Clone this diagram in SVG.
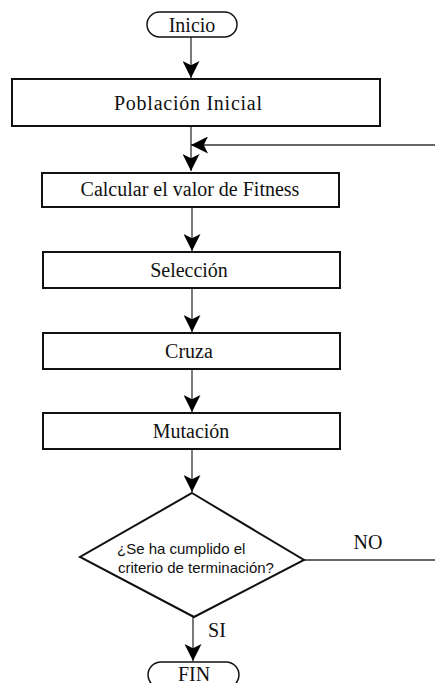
<svg xmlns="http://www.w3.org/2000/svg" width="435" height="683" viewBox="0 0 435 683">
<defs>
<marker id="ah" viewBox="0 0 16 16" refX="16" refY="8" markerWidth="17" markerHeight="17" markerUnits="userSpaceOnUse" orient="auto">
<path d="M0,0 L16,8 L0,16 L4,8 Z" fill="#000"/>
</marker>
</defs>
<style>
.box{fill:#fff;stroke:#111;stroke-width:2}
.term{fill:#fff;stroke:#111;stroke-width:1.5}
.lbl{font-family:"Liberation Serif","Times New Roman",serif;font-size:20px;fill:#111;text-anchor:middle}
.q{font-family:"Liberation Sans",Arial,sans-serif;font-size:15px;fill:#111}
.edge{stroke:#333;stroke-width:1.3;fill:none}
</style>
<rect width="435" height="683" fill="#fff"/>
<g id="connectors">
<line class="edge" x1="191" y1="37" x2="191" y2="78" marker-end="url(#ah)"/>
<line class="edge" x1="191" y1="126" x2="191" y2="171" marker-end="url(#ah)"/>
<line class="edge" x1="435" y1="145" x2="191" y2="145" marker-end="url(#ah)" stroke-width="2"/>
<line class="edge" x1="192" y1="207" x2="192" y2="251" marker-end="url(#ah)"/>
<line class="edge" x1="192" y1="288" x2="192" y2="332" marker-end="url(#ah)"/>
<line class="edge" x1="192" y1="369" x2="192" y2="412" marker-end="url(#ah)"/>
<line class="edge" x1="192" y1="449" x2="192" y2="492" marker-end="url(#ah)"/>
<line class="edge" x1="304" y1="560" x2="435" y2="560" stroke-width="1.6"/>
<line class="edge" x1="193" y1="617" x2="193" y2="661" marker-end="url(#ah)"/>
<text class="lbl" x="368" y="549">NO</text>
<text class="lbl" x="217" y="637">SI</text>
</g>
<g id="inicio">
<rect class="term" x="147" y="12" width="90" height="25" rx="12.5"/>
<text class="lbl" x="192" y="32">Inicio</text>
</g>
<g id="poblacion">
<rect class="box" x="12" y="79" width="368" height="47"/>
<text class="lbl" x="188" y="110" textLength="148">Población Inicial</text>
</g>
<g id="calcular">
<rect class="box" x="42" y="173" width="297" height="34"/>
<text class="lbl" x="190" y="196">Calcular el valor de Fitness</text>
</g>
<g id="seleccion">
<rect class="box" x="43" y="252" width="297" height="36"/>
<text class="lbl" x="189" y="277">Selección</text>
</g>
<g id="cruza">
<rect class="box" x="43" y="333" width="297" height="36"/>
<text class="lbl" x="189" y="358">Cruza</text>
</g>
<g id="mutacion">
<rect class="box" x="43" y="413" width="297" height="36"/>
<text class="lbl" x="191" y="438">Mutación</text>
</g>
<g id="decision">
<polygon class="box" points="192,493 304,560 194,617 80,557" stroke-width="2"/>
<text class="q" x="117" y="554">¿Se ha cumplido el</text>
<text class="q" x="118" y="573">criterio de terminación?</text>
</g>
<g id="fin">
<rect class="term" x="148" y="662" width="91" height="26" rx="13"/>
<text class="lbl" x="194" y="681">FIN</text>
</g>
</svg>
